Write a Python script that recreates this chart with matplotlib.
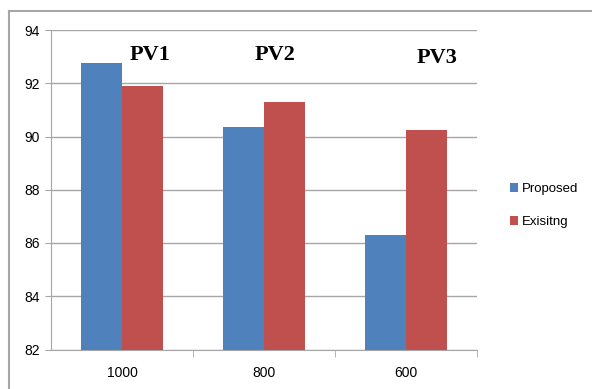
import matplotlib
matplotlib.use("Agg")
import matplotlib.pyplot as plt
import numpy as np
from matplotlib.lines import Line2D

categories = ["1000", "800", "600"]
proposed = [92.76, 90.35, 86.3]
existing = [91.88, 91.31, 90.26]
annotations = ["PV1", "PV2", "PV3"]
series_names = ["Proposed", "Exisitng"]

blue = "#4f81bd"
red = "#c0504d"
grid_c = "#a6a6a6"

fig = plt.figure(figsize=(5.92, 3.89), dpi=100)
ax = fig.add_axes([51/592, 1-349.5/389, (477-51)/592, (349.5-30)/389])

x = np.arange(len(categories))
w = 0.29
b1 = ax.bar(x - w/2, np.array(proposed) - 82, w, bottom=82, color=blue, label=series_names[0], zorder=3)
b2 = ax.bar(x + w/2, np.array(existing) - 82, w, bottom=82, color=red, label=series_names[1], zorder=3)

ax.set_xlim(-0.5, 2.5)
ax.set_ylim(82, 94)
ax.set_yticks(np.arange(82, 95, 2))
ax.set_yticklabels([str(v) for v in range(82, 95, 2)], fontsize=10, family="Liberation Sans")
ax.yaxis.grid(True, color=grid_c, linewidth=1.0, zorder=0)
ax.set_axisbelow(True)

ax.set_xticks(x)
ax.set_xticklabels(categories, fontsize=10, family="Liberation Sans")
ax.tick_params(axis="x", length=0, pad=12)
ax.set_xticks([0.5, 1.5, 2.5], minor=True)
ax.tick_params(axis="x", which="minor", length=5, color=grid_c)
ax.tick_params(axis="y", length=4, color=grid_c, pad=4)

for s in ["top", "right"]:
    ax.spines[s].set_visible(False)
for s in ["left", "bottom"]:
    ax.spines[s].set_color(grid_c)

ann_pos = [(150/592, 1-55/389), (275/592, 1-55/389), (437/592, 1-58/389)]
for t, (fx, fy) in zip(annotations, ann_pos):
    fig.text(fx, fy, t, ha="center", va="center", fontsize=16, fontweight="bold",
             family="Liberation Serif")

leg = fig.legend(handles=[b1, b2], labels=series_names, loc="center left",
                 bbox_to_anchor=(498/592, 1-205.5/389), frameon=False,
                 prop={"family": "Liberation Sans", "size": 9.5},
                 handlelength=0.6, handleheight=0.7, handletextpad=0.3,
                 labelspacing=1.6)

fig.add_artist(Line2D([9/592, 1], [1-10.5/389, 1-10.5/389], color=grid_c, linewidth=1.5))
fig.add_artist(Line2D([9/592, 9/592], [0, 1-10.5/389], color=grid_c, linewidth=1.5))

fig.savefig("out.png", dpi=100)
